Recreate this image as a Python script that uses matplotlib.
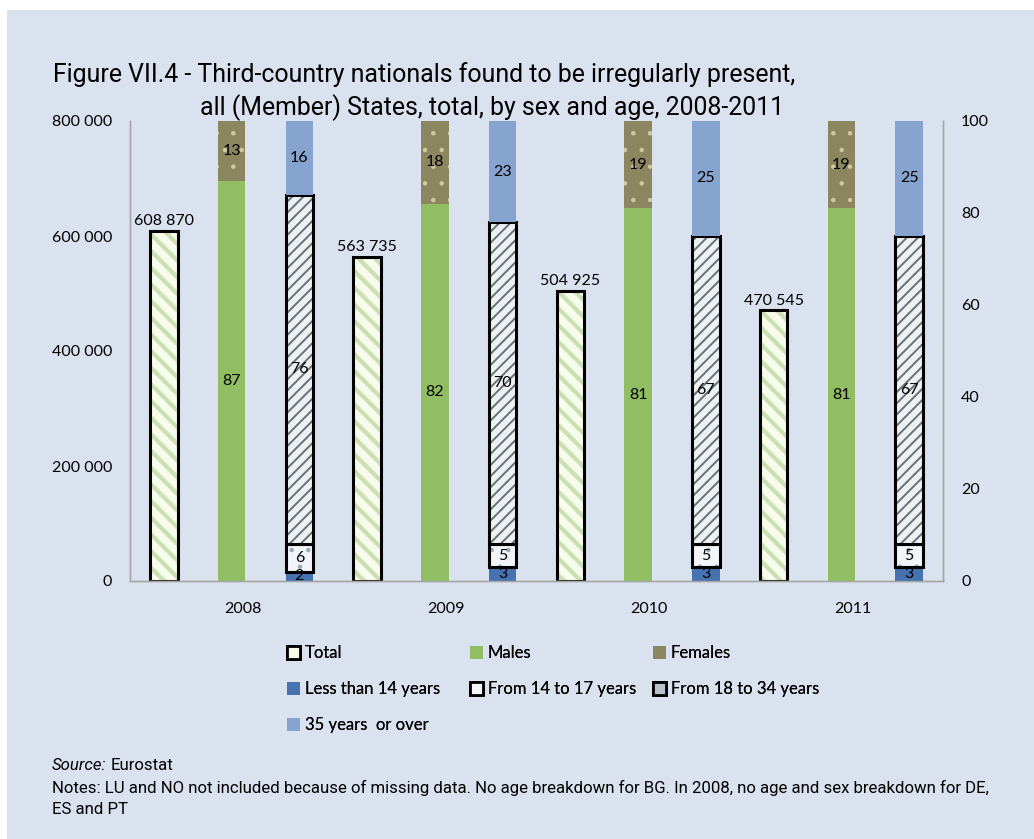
import numpy as np
import matplotlib.pyplot as plt
from matplotlib.patches import Patch, Rectangle

# Data
years = ['2008', '2009', '2010', '2011']
total = [608870, 563735, 504925, 470545]
males = [87, 82, 81, 81]
females = [13, 18, 19, 19]
age_lt14 = [2, 3, 3, 3]
age_14_17 = [6, 5, 5, 5]
age_18_34 = [76, 70, 67, 67]
age_35plus = [16, 23, 25, 25]

BG = '#D9E2EE'
FONT = ['Lato', 'DejaVu Sans']
TITLE_FONT = ['Roboto', 'DejaVu Sans']

plt.rcParams['font.family'] = FONT
plt.rcParams['font.size'] = 11
plt.rcParams['hatch.linewidth'] = 2.0

W, H = 1034, 839


def fx(px):
    return px / W


def fy(py):
    return 1 - py / H


def set_hlw(bars, lw):
    for b in bars:
        if hasattr(b, 'set_hatch_linewidth'):
            b.set_hatch_linewidth(lw)


def fit_width(fig, txt, target_px):
    """Scale a text's font size so it spans target_px pixels."""
    r = fig.canvas.get_renderer()
    wpx = txt.get_window_extent(renderer=r).width
    txt.set_fontsize(txt.get_fontsize() * target_px / wpx)


def main():
    fig = plt.figure(figsize=(W / 100, H / 100), dpi=100, facecolor=BG)
    # white strips at the top and left edge of the picture
    fig.patches.append(Rectangle((0, fy(10)), 1, 10 / H, transform=fig.transFigure,
                                 facecolor='white', edgecolor='none', zorder=-5))
    fig.patches.append(Rectangle((0, 0), fx(7), 1, transform=fig.transFigure,
                                 facecolor='white', edgecolor='none', zorder=-5))

    ax = fig.add_axes([fx(130), fy(581), fx(943 - 130), (581 - 121) / H])
    ax.set_facecolor(BG)
    ax2 = ax.twinx()

    x = np.arange(len(years))
    w = 0.135
    off = 1 / 3

    # Total (left axis)
    b = ax.bar(x - off, total, w, color='#F6FBEC', edgecolor='#CADFB2',
               hatch='\\\\', linewidth=0)
    set_hlw(b, 3.0)
    ax.bar(x - off, total, w, fill=False, edgecolor='black', linewidth=2.2)
    for xi, v in zip(x, total):
        ax.annotate(f'{v:,}'.replace(',', ' '), (xi - off, v), xytext=(0, 2),
                    textcoords='offset points', ha='center', va='bottom',
                    fontsize=11.5)

    # Sex breakdown (right axis, %)
    ax2.bar(x, males, w, color='#92BE63', linewidth=0)
    b = ax2.bar(x, females, w, bottom=males, color='#8B8560',
                edgecolor='#CFCA9E', hatch='.', linewidth=0)
    set_hlw(b, 0.8)
    for xi, m, f in zip(x, males, females):
        ax2.text(xi, m / 2, str(m), ha='center', va='center', fontsize=11.5)
        ax2.text(xi, m + min(f, 100 - m) / 2, str(f), ha='center', va='center',
                 fontsize=11.5)

    # Age breakdown (right axis, %)
    xa = x + off
    bottom = np.zeros(len(years))
    ax2.bar(xa, age_lt14, w, bottom=bottom, color='#4673B0', linewidth=0)
    bottom += age_lt14
    b = ax2.bar(xa, age_14_17, w, bottom=bottom, color='#F1F5F9',
                edgecolor='#9AAAB8', hatch='.', linewidth=0)
    set_hlw(b, 0.8)
    ax2.bar(xa, age_14_17, w, bottom=bottom, fill=False, edgecolor='black',
            linewidth=2.2)
    bottom += age_14_17
    b = ax2.bar(xa, age_18_34, w, bottom=bottom, color='#EEF1F2',
                edgecolor='#66717A', hatch='///', linewidth=0)
    set_hlw(b, 1.4)
    ax2.bar(xa, age_18_34, w, bottom=bottom, fill=False, edgecolor='black',
            linewidth=2.2)
    bottom += age_18_34
    ax2.bar(xa, age_35plus, w, bottom=bottom, color='#87A3CF', linewidth=0)

    segs = [age_lt14, age_14_17, age_18_34, age_35plus]
    for i, xi in enumerate(xa):
        lo = 0
        for s in segs:
            hi = min(lo + s[i], 100)
            ax2.text(xi, (lo + hi) / 2, str(s[i]), ha='center', va='center',
                     fontsize=11.5)
            lo += s[i]

    # axes styling
    ax.set_xlim(-0.5, 3.5)
    ax.set_ylim(0, 800000)
    ax2.set_ylim(0, 100)
    ax.set_yticks(np.arange(0, 800001, 200000))
    ax.set_yticklabels([f'{int(v):,}'.replace(',', ' ')
                        for v in np.arange(0, 800001, 200000)])
    ax2.set_yticks(np.arange(0, 101, 20))
    ax.set_xticks(x + 0.055)
    ax.set_xticklabels(years)
    ax.tick_params(axis='y', length=0, pad=13, labelsize=11.5)
    ax2.tick_params(axis='y', length=0, pad=13, labelsize=11.5)
    ax.tick_params(axis='x', length=0, pad=15, labelsize=11.5)
    for a in (ax, ax2):
        a.spines['top'].set_visible(False)
        for s in ('left', 'right', 'bottom'):
            a.spines[s].set_color('#A6A6A6')
            a.spines[s].set_linewidth(1.0)

    # legend: three columns of equal width, filled row by row
    h_total = Patch(facecolor='#F6FBEC', edgecolor='black', linewidth=2)
    h_males = Patch(facecolor='#92BE63', edgecolor='none')
    h_fem = Patch(facecolor='#8B8560', edgecolor='none')
    h_lt14 = Patch(facecolor='#4673B0', edgecolor='none')
    h_1417 = Patch(facecolor='#F1F5F9', edgecolor='black', linewidth=2)
    h_1834 = Patch(facecolor='#B9C2CA', edgecolor='black', linewidth=2)
    h_35 = Patch(facecolor='#87A3CF', edgecolor='none')
    columns = [
        ([h_total, h_lt14, h_35], ['Total', 'Less than 14 years', '35 years  or over'], 274),
        ([h_males, h_1417], ['Males', 'From 14 to 17 years'], 457),
        ([h_fem, h_1834], ['Females', 'From 18 to 34 years'], 640),
    ]
    for hs, ls, xpx in columns:
        leg = fig.legend(hs, ls, loc='upper left', bbox_to_anchor=(fx(xpx), fy(632)),
                         frameon=False, handlelength=0.75, handleheight=0.75,
                         handletextpad=0.3, labelspacing=1.2, fontsize=12,
                         borderpad=0.3)
        fig.add_artist(leg)

    # title and notes
    t1 = fig.text(fx(53), fy(75),
                  'Figure VII.4 - Third-country nationals found to be irregularly present,',
                  family=TITLE_FONT, fontsize=17, va='center', ha='left')
    t2 = fig.text(fx(200), fy(108),
                  'all (Member) States, total, by sex and age, 2008-2011',
                  family=TITLE_FONT, fontsize=17, va='center', ha='left')
    fit_width(fig, t1, 744)
    t2.set_fontsize(t1.get_fontsize())

    notes = fig.text(fx(52), fy(788), 'Notes: LU and NO not included because of missing data. '
                     'No age breakdown for BG. In 2008, no age and sex breakdown for DE,',
                     family=TITLE_FONT, fontsize=11, va='center', ha='left')
    fit_width(fig, notes, 933)
    nfs = notes.get_fontsize()
    src = fig.text(fx(52), fy(766), 'Source:', family=TITLE_FONT, fontsize=nfs,
                   style='italic', va='center', ha='left')
    r = fig.canvas.get_renderer()
    sx = src.get_window_extent(renderer=r).x1
    fig.text((sx + 4) / W, fy(766), 'Eurostat', family=TITLE_FONT, fontsize=nfs,
             va='center', ha='left')
    fig.text(fx(52), fy(810), 'ES and PT', family=TITLE_FONT, fontsize=nfs,
             va='center', ha='left')

    fig.savefig('out.png', dpi=100, facecolor=fig.get_facecolor())


if __name__ == '__main__':
    main()
